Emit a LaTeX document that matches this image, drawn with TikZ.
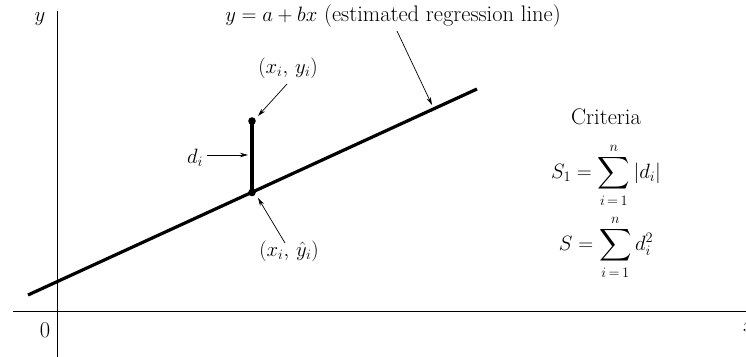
\documentclass[tikz,border=0pt]{standalone}
\usepackage{amsmath,amssymb}
\usepackage{tikz}
\usetikzlibrary{arrows.meta,calc}

\begin{document}
\begin{tikzpicture}[
    x=1pt, y=-1pt,
    every node/.style={font=\fontsize{22.5}{25}\selectfont, inner sep=1pt},
    axis/.style={line width=0.9pt},
    regline/.style={line width=3.2pt},
    pointer/.style={-{Stealth[length=8pt,width=4.5pt]}, line width=0.7pt},
    dot/.style={fill=black},
  ]
  \useasboundingbox (0,0) rectangle (746,356);

  % Axes
  \coordinate (xl) at (13,311);
  \coordinate (xr) at (750,311);
  \coordinate (yt) at (57,11);
  \coordinate (yb) at (57,360);
  \draw[axis] (xl) -- (xr);
  \draw[axis] (yt) -- (yb);
  \node (ylab) at (40,19) {$y$};
  \node (xlab) at (749,327) {$x$};
  \node (zero) at (45,330) {0};

  % Estimated regression line
  \coordinate (L0) at (28,295);
  \coordinate (L1) at (477,89);
  \draw[regline] (L0) -- (L1);

  % Observed point and its fitted value
  \coordinate (P) at (252,121);
  \coordinate (Q) at (252,192.5);
  \draw[regline] (P) -- (Q);
  \fill[dot] (P) circle (3.8pt);
  \fill[dot] (Q) circle (3.8pt);

  % Labels with pointers
  \node (eqlab) at (393,16)
    {$y = a + bx$ (estimated regression line)};
  \coordinate (eqtip) at (432,105);
  \draw[pointer] (397,31) -- (eqtip);

  \node (ptlab) at (288,68) {$(x_i,\, y_i)$};
  \coordinate (pttip) at (258,116);
  \draw[pointer] (287,84) -- (pttip);

  \node (dlab) at (195,158) {$d_i$};
  \coordinate (dtip) at (248,155);
  \draw[pointer] (207,155) -- (dtip);

  \node (fitlab) at (289,251) {$(x_i,\, \hat{y}_i)$};
  \coordinate (fittip) at (258,198);
  \draw[pointer] (285,243) -- (fittip);

  % Criteria
  \node (crit) at (606,117) {Criteria};
  \node (sone) at (606,175)
    {$S_1 = \displaystyle\sum_{i\,=\,1}^{n} |d_i|$};
  \node (stwo) at (606,247)
    {$S = \displaystyle\sum_{i\,=\,1}^{n} d_i^2$};

\end{tikzpicture}
\end{document}
